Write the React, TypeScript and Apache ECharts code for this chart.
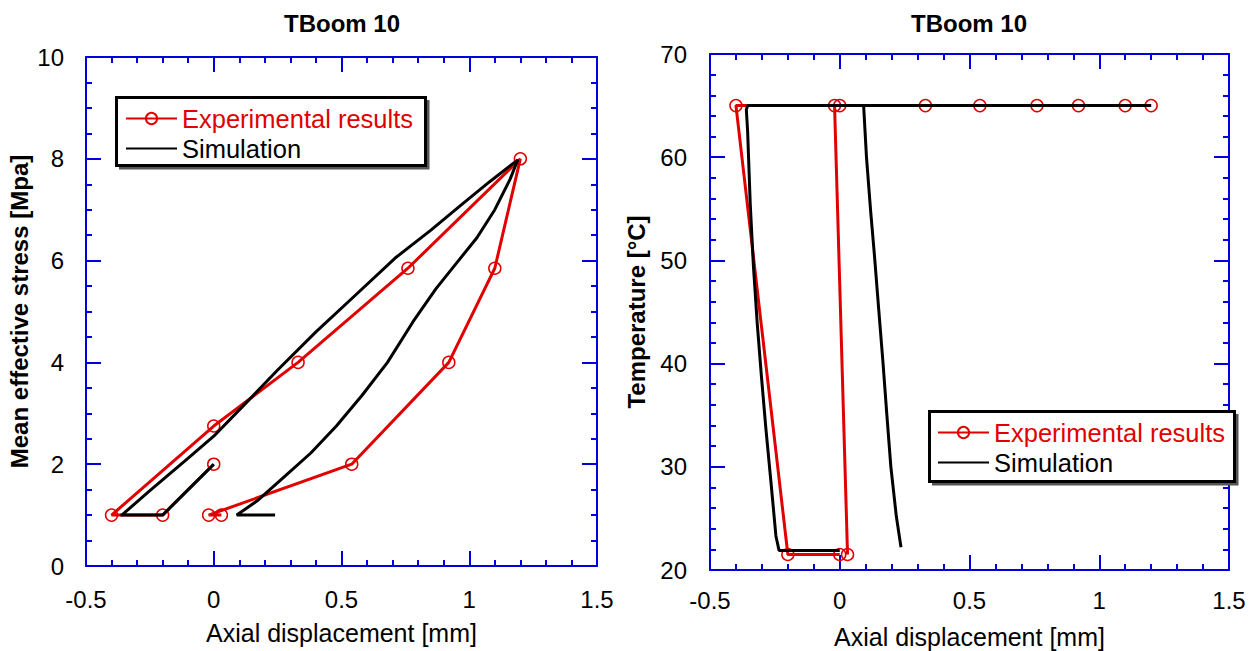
import React, { useEffect, useRef } from 'react';
import * as echarts from 'echarts';

const FONT = '"Liberation Sans", Arial, Helvetica, sans-serif';
const RED = '#e00000';
const BLUE = '#0000dd';

const chartTitle = 'TBoom 10';
const xAxisName = 'Axial displacement [mm]';
const leftYName = 'Mean effective stress [Mpa]';
const rightYName = 'Temperature [°C]';
const expName = 'Experimental results';
const simName = 'Simulation';

// Experimental results (shared displacement, stress, temperature)
const expDisp = [0, -0.2, -0.4, 0, 0.33, 0.76, 1.2, 1.1, 0.92, 0.54, -0.02, 0.03];
const expStress = [2, 1, 1, 2.75, 4, 5.85, 8, 5.85, 4, 2, 1, 1];
const expTemp = [21.5, 21.5, 65, 65, 65, 65, 65, 65, 65, 65, 65, 21.5];

// Simulation, stress vs displacement
const simLeftDisp = [0, -0.1, -0.2, -0.365, -0.36, -0.25, -0.1, 0, 0.12, 0.25, 0.4, 0.55, 0.71, 0.85, 0.97, 1.08, 1.19,
  1.16, 1.1, 1.03, 0.95, 0.87, 0.78, 0.68, 0.58, 0.48, 0.38, 0.28, 0.17, 0.09, 0.24];
const simLeftStress = [2, 1.5, 1, 1, 1, 1.48, 2.12, 2.55, 3.17, 3.85, 4.6, 5.3, 6.05, 6.6, 7.1, 7.55, 7.98,
  7.6, 7.0, 6.45, 5.95, 5.45, 4.8, 4.0, 3.35, 2.75, 2.22, 1.77, 1.28, 1.0, 1.0];

// Simulation, temperature vs displacement
const simRightDisp = [0, -0.234, -0.246, -0.265, -0.285, -0.302, -0.318, -0.333, -0.345, -0.355, -0.36, -0.355, 1.2,
  0.092, 0.103, 0.119, 0.134, 0.15, 0.166, 0.181, 0.197, 0.218, 0.236];
const simRightTemp = [21.9, 21.9, 23.3, 28.5, 33.8, 38.8, 43.9, 49.6, 55.5, 62.5, 64.6, 65, 65,
  65, 60, 54.8, 50.4, 45.3, 40.3, 35.2, 30.0, 25.2, 22.2];

const zip = (a: number[], b: number[]) => a.map((v, i) => [v, b[i]]);

function axisCommon(gridIndex: number, min: number, max: number, interval: number, minorSplit: number) {
  return {
    type: 'value',
    gridIndex,
    min,
    max,
    interval,
    axisLine: { show: true, onZero: false, lineStyle: { color: BLUE, width: 2 } },
    axisTick: { show: true, inside: true, length: 15, lineStyle: { color: BLUE, width: 2 } },
    minorTick: { show: true, splitNumber: minorSplit, length: 6, lineStyle: { color: BLUE, width: 2 } },
    splitLine: { show: false },
    minorSplitLine: { show: false },
  };
}

function xAxes(gridIndex: number, labelMargin: number) {
  const c = axisCommon(gridIndex, -0.5, 1.5, 0.5, 5);
  return [
    {
      ...c,
      position: 'bottom',
      axisLabel: { show: true, margin: labelMargin, color: '#000', fontSize: 24, fontFamily: FONT },
      name: xAxisName,
      nameLocation: 'middle',
      nameGap: 54,
      nameTextStyle: { color: '#000', fontSize: 25, fontFamily: FONT },
    },
    { ...c, position: 'top', axisLabel: { show: false } },
  ];
}

function yAxes(gridIndex: number, min: number, max: number, interval: number, minorSplit: number,
  name: string, nameGap: number, labelMargin: number) {
  const c = axisCommon(gridIndex, min, max, interval, minorSplit);
  return [
    {
      ...c,
      position: 'left',
      axisLabel: { show: true, margin: labelMargin, color: '#000', fontSize: 24, fontFamily: FONT },
      name,
      nameLocation: 'middle',
      nameGap,
      nameTextStyle: { color: '#000', fontSize: 24, fontWeight: 'bold', fontFamily: FONT },
    },
    { ...c, position: 'right', axisLabel: { show: false } },
  ];
}

function expSeries(xi: number, yi: number, data: number[][]) {
  return {
    type: 'line',
    name: expName,
    xAxisIndex: xi,
    yAxisIndex: yi,
    data,
    symbol: 'circle',
    symbolSize: 12,
    itemStyle: { color: 'rgba(255,255,255,0)', borderColor: RED, borderWidth: 1.5 },
    lineStyle: { color: RED, width: 3 },
    z: 2,
  };
}

function simSeries(xi: number, yi: number, data: number[][]) {
  return {
    type: 'line',
    name: simName,
    xAxisIndex: xi,
    yAxisIndex: yi,
    data,
    symbol: 'none',
    symbolSize: 0,
    showSymbol: false,
    itemStyle: { color: '#000' },
    lineStyle: { color: '#000', width: 3 },
    z: 3,
  };
}

function legendAt(left: number, top: number) {
  return {
    orient: 'vertical',
    left,
    top,
    padding: 0,
    itemGap: 4,
    itemWidth: 51,
    itemHeight: 14,
    selectedMode: false,
    z: 20,
    textStyle: { fontSize: 25.5, fontFamily: FONT, lineHeight: 25 },
    data: [
      { name: expName, textStyle: { color: RED } },
      { name: simName, textStyle: { color: '#000' }, itemStyle: { opacity: 0 } },
    ],
  };
}

function legendBox(x: number, y: number, w: number, h: number) {
  return [
    { type: 'rect', z: 10, shape: { x: x + 2.5, y: y + 2.5, width: w + 1.5, height: h + 1.5 }, style: { fill: '#555' } },
    { type: 'rect', z: 11, shape: { x: x, y: y, width: w, height: h }, style: { fill: '#fff', stroke: '#000', lineWidth: 3 } },
  ];
}

function titleText(x: number) {
  return {
    type: 'text',
    z: 12,
    x,
    y: 23,
    style: {
      text: chartTitle,
      fontSize: 24,
      fontWeight: 'bold',
      fontFamily: FONT,
      fill: '#000',
      textAlign: 'center',
      textVerticalAlign: 'middle',
      align: 'center',
      verticalAlign: 'middle',
    },
  };
}

const option = {
  animation: false,
  backgroundColor: '#fff',
  grid: [
    { left: 86, top: 57, width: 511, height: 509, containLabel: false, outerBoundsMode: 'none' },
    { left: 710, top: 54, width: 519, height: 516, containLabel: false, outerBoundsMode: 'none' },
  ],
  xAxis: [...xAxes(0, 21), ...xAxes(1, 18)],
  yAxis: [
    ...yAxes(0, 0, 10, 2, 4, leftYName, 55, 22),
    ...yAxes(1, 20, 70, 10, 5, rightYName, 62, 23),
  ],
  legend: [legendAt(125, 105.5), legendAt(937, 419.5)],
  graphic: [
    ...legendBox(116.5, 97.5, 309, 68),
    ...legendBox(929.5, 411.5, 305, 70),
    titleText(342),
    titleText(969),
  ],
  series: [
    expSeries(0, 0, zip(expDisp, expStress)),
    simSeries(0, 0, zip(simLeftDisp, simLeftStress)),
    expSeries(2, 2, zip(expDisp, expTemp)),
    simSeries(2, 2, zip(simRightDisp, simRightTemp)),
  ],
};

export default function App() {
  const ref = useRef<HTMLDivElement>(null);
  useEffect(() => {
    document.body.style.margin = '0';
    const chart = echarts.init(ref.current as HTMLDivElement, null, { renderer: 'svg' });
    chart.setOption(option as any);
    return () => chart.dispose();
  }, []);
  return <div ref={ref} style={{ position: 'absolute', left: 0, top: 0, width: 1258, height: 651 }} />;
}
